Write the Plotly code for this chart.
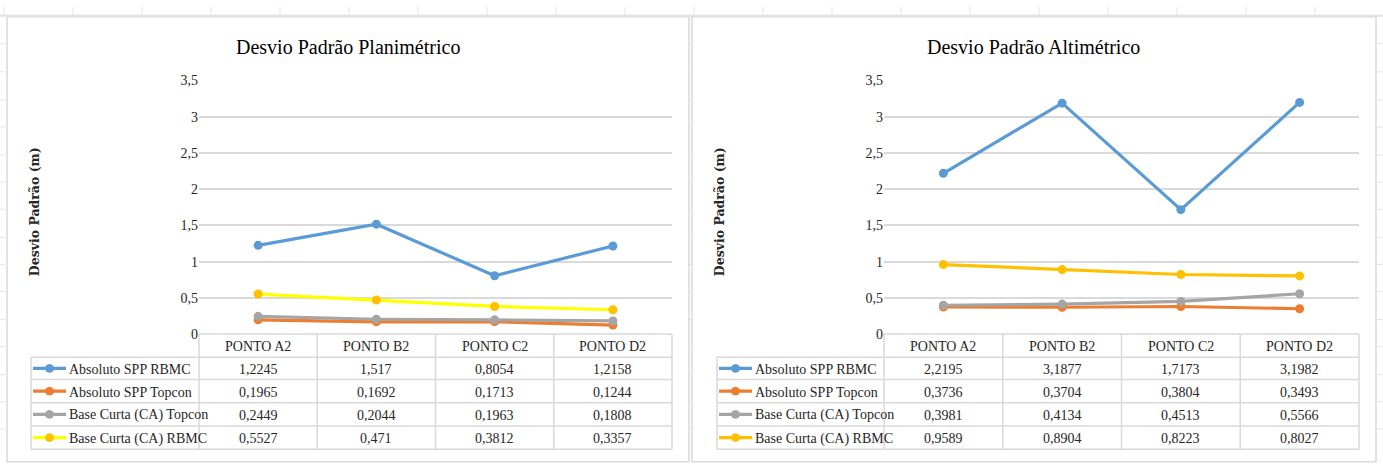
import plotly.graph_objects as go

W, H = 1383, 464

# ---------------- data ----------------
categories = ["PONTO A2", "PONTO B2", "PONTO C2", "PONTO D2"]
series_names = ["Absoluto SPP RBMC", "Absoluto SPP Topcon",
                "Base Curta (CA) Topcon", "Base Curta (CA) RBMC"]

plan_rbmc = [1.2245, 1.517, 0.8054, 1.2158]
plan_topcon = [0.1965, 0.1692, 0.1713, 0.1244]
plan_bc_topcon = [0.2449, 0.2044, 0.1963, 0.1808]
plan_bc_rbmc = [0.5527, 0.471, 0.3812, 0.3357]

alt_rbmc = [2.2195, 3.1877, 1.7173, 3.1982]
alt_topcon = [0.3736, 0.3704, 0.3804, 0.3493]
alt_bc_topcon = [0.3981, 0.4134, 0.4513, 0.5566]
alt_bc_rbmc = [0.9589, 0.8904, 0.8223, 0.8027]

titles = ["Desvio Padrão Planimétrico", "Desvio Padrão Altimétrico"]
y_title = "Desvio Padrão (m)"

# ---------------- styles ----------------
line_colors_left = ["#5B9BD5", "#ED7D31", "#A5A5A5", "#FFFF00"]
marker_colors_left = ["#5B9BD5", "#ED7D31", "#A5A5A5", "#FFC000"]
line_colors_right = ["#5B9BD5", "#ED7D31", "#A5A5A5", "#FFC000"]
marker_colors_right = ["#5B9BD5", "#ED7D31", "#A5A5A5", "#FFC000"]
GRID = "#d9d9d9"
SERIF = "Liberation Serif"
TXT = "#262626"


def fx(x):
    return x / W


def fy(y):
    return 1 - y / H


panels = [
    dict(series=[plan_rbmc, plan_topcon, plan_bc_topcon, plan_bc_rbmc],
         lc=line_colors_left, mc=marker_colors_left,
         plot_x0=199, plot_x1=672, tab_x0=31, key_x0=33, key_x1=66,
         title_x=348, ytitle_x=34, frame=(7, 10, 689, 470),
         xa="x", ya="y"),
    dict(series=[alt_rbmc, alt_topcon, alt_bc_topcon, alt_bc_rbmc],
         lc=line_colors_right, mc=marker_colors_right,
         plot_x0=884, plot_x1=1359, tab_x0=717, key_x0=719, key_x1=752,
         title_x=1033, ytitle_x=719, frame=(692, 10, 1376, 470),
         xa="x2", ya="y2"),
]

plot_top, plot_bot = 76, 338
row_lines = [338, 362, 385, 409, 433, 457]

fig = go.Figure()
shapes = []
annotations = []


def text(x, y, s, size, family=SERIF, color=TXT, xanchor="center", angle=0):
    annotations.append(dict(xref="paper", yref="paper", x=fx(x), y=fy(y),
                            xanchor=xanchor, yanchor="middle", text=s,
                            showarrow=False, textangle=angle,
                            font=dict(family=family, size=size, color=color)))


def hline(x0, x1, y, color=GRID, width=1.5):
    shapes.append(dict(type="line", xref="paper", yref="paper",
                       x0=fx(x0), x1=fx(x1), y0=fy(y), y1=fy(y),
                       line=dict(color=color, width=width)))


def vline(x, y0, y1, color=GRID, width=1.5):
    shapes.append(dict(type="line", xref="paper", yref="paper",
                       x0=fx(x), x1=fx(x), y0=fy(y0), y1=fy(y1),
                       line=dict(color=color, width=width)))


# spreadsheet background decoration
for i in range(21):
    vline(4 + 69 * i, 0, 9, color="#e4e4e4", width=1)
hline(0, W, 9, color="#e0e0e0", width=2)
for yy in [38, 67, 96, 124, 153, 181, 209, 238, 266, 294, 323, 351, 380, 408, 436]:
    hline(0, 5, yy, color="#e4e4e4", width=1)
    hline(689, 692, yy, color="#e4e4e4", width=1)
    hline(1376, W, yy, color="#e4e4e4", width=1)

for p_i, p in enumerate(panels):
    fl, ft, fr, fb = p["frame"]
    shapes.append(dict(type="rect", xref="paper", yref="paper",
                       x0=fx(fl), x1=fx(fr), y0=fy(fb), y1=fy(ft),
                       line=dict(color="#d9d9d9", width=1.5),
                       fillcolor="white", layer="below"))
    for s_i, vals in enumerate(p["series"]):
        fig.add_trace(go.Scatter(
            x=list(range(len(categories))), y=vals,
            mode="lines+markers", name=series_names[s_i],
            line=dict(color=p["lc"][s_i], width=3.2),
            marker=dict(color=p["mc"][s_i], size=9),
            xaxis=p["xa"], yaxis=p["ya"], showlegend=False,
            hovertemplate="%{y}<extra>" + series_names[s_i] + "</extra>"))

    x0, x1 = p["plot_x0"], p["plot_x1"]
    colw = (x1 - x0) / len(categories)
    hline(x0, x1, row_lines[0])
    for r in row_lines[1:]:
        hline(p["tab_x0"], x1, r)
    for c in range(len(categories) + 1):
        vline(x0 + c * colw, row_lines[0], row_lines[-1])
    vline(p["tab_x0"], row_lines[1], row_lines[-1])
    for c, cat in enumerate(categories):
        text(x0 + (c + 0.5) * colw, (row_lines[0] + row_lines[1]) / 2 + 1, cat, 14)
    for s_i, vals in enumerate(p["series"]):
        yc = (row_lines[s_i + 1] + row_lines[s_i + 2]) / 2
        km = (p["key_x0"] + p["key_x1"]) / 2
        hline(p["key_x0"], p["key_x1"], yc, color=p["lc"][s_i], width=3.2)
        shapes.append(dict(type="circle", xref="paper", yref="paper",
                           x0=fx(km - 4), x1=fx(km + 4), y0=fy(yc + 4), y1=fy(yc - 4),
                           line=dict(color=p["mc"][s_i], width=1),
                           fillcolor=p["mc"][s_i]))
        text(p["key_x1"] + 0.5, yc + 1, series_names[s_i], 14, xanchor="left")
        for c, v in enumerate(vals):
            text(x0 + (c + 0.5) * colw, yc + 1, str(v).replace(".", ","), 14)
    text(p["title_x"], 41, titles[p_i], 20, color="#000000")
    text(p["ytitle_x"], 212, "<b>" + y_title + "</b>", 12.5,
         family="DejaVu Serif", angle=-90)

axis_common_y = dict(range=[0, 3.5], dtick=0.5, showgrid=True, gridcolor=GRID,
                     gridwidth=1.5, zeroline=False, showline=False, ticks="",
                     tickfont=dict(family=SERIF, size=14, color=TXT),
                     domain=[fy(plot_bot), fy(plot_top)], fixedrange=True)
axis_common_x = dict(range=[-0.5, 3.5], showgrid=False, zeroline=False,
                     showline=False, showticklabels=False, ticks="", fixedrange=True)

fig.update_layout(
    width=W, height=H, margin=dict(l=0, r=0, t=0, b=0),
    paper_bgcolor="white", plot_bgcolor="rgba(0,0,0,0)",
    separators=",.",
    xaxis=dict(axis_common_x, domain=[fx(199), fx(672)], anchor="y"),
    yaxis=dict(axis_common_y, anchor="x"),
    xaxis2=dict(axis_common_x, domain=[fx(884), fx(1359)], anchor="y2"),
    yaxis2=dict(axis_common_y, anchor="x2"),
    shapes=shapes, annotations=annotations,
)

post_js = (
    "var de=document.documentElement, b=document.body;"
    "de.style.margin='0';de.style.padding='0';de.style.overflow='hidden';"
    "b.style.margin='0';b.style.padding='0';b.style.overflow='hidden';"
)

fig.write_html("out.html", config={"displayModeBar": False}, post_script=post_js)
